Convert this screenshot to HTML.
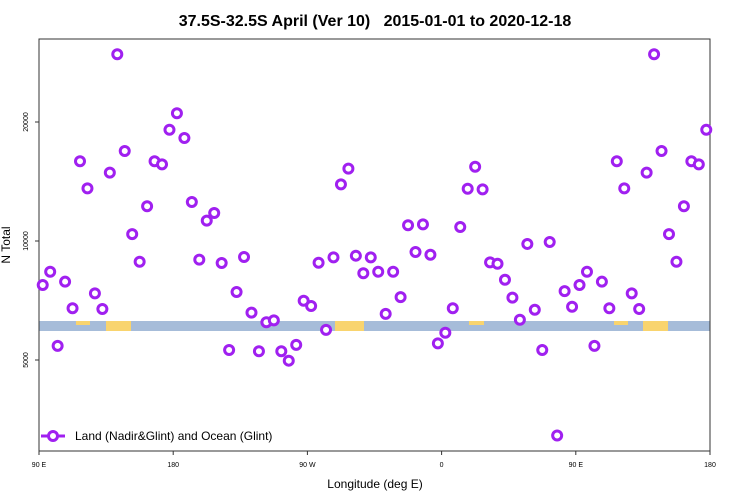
<!DOCTYPE html>
<html><head><meta charset="utf-8"><style>
body{margin:0;background:#fff;}
svg{display:block;font-family:"Liberation Sans",sans-serif;}
</style></head><body>
<svg id="chart" width="750" height="500" viewBox="0 0 750 500">
<text x="375" y="26" text-anchor="middle" font-size="16" font-weight="bold">37.5S-32.5S April (Ver 10)&#160;&#160; 2015-01-01 to 2020-12-18</text>
<g id="strip"></g>
<rect x="39" y="39" width="671" height="412" fill="none" stroke="#333" stroke-width="1"/>
<g id="axes"></g>
<g id="points"></g>
<text transform="translate(10,245) rotate(-90)" text-anchor="middle" font-size="12">N Total</text>
<text x="375" y="488" text-anchor="middle" font-size="12">Longitude (deg E)</text>
<g>
<line x1="41" y1="436" x2="65" y2="436" stroke="#a020f0" stroke-width="3"/>
<circle cx="53" cy="436" r="4.5" fill="#fff" stroke="#a020f0" stroke-width="3"/>
<text x="75" y="440" font-size="12">Land (Nadir&amp;Glint) and Ocean (Glint)</text>
</g>
</svg>
<script>
const lons = [];
for (let l = -177.5; l < 180; l += 5) lons.push(l);
const counts = [21040,18220,12550,8970,11260,11770,8800,5300,7430,9110,6590,5260,6230,6300,5260,4980,5460,7060,6850,8810,5960,9090,13910,15240,9180,8290,9090,8360,6540,8360,7210,10960,9380,11020,9230,5510,5860,6760,10850,13560,15410,13510,8830,8760,7980,7190,6320,9830,6700,5300,9940,3220,7470,6820,
7740,8360,5430,7890,6760,15910,13590,7370,6730,14890,29670,16890,10410,8860,12240,15910,15630,19120];
const xTickVals = [-270,-180,-90,0,90,180];
const xTickLabels = ["90 E","180","90 W","0","90 E","180"];
const yTickVals = [5000,10000,20000];

const NS = "http://www.w3.org/2000/svg";
function X(l){ return 39 + (l + 270) * (671/450); }
function Y(v){ return 241 - 119 * Math.log2(v/10000); }
function mk(tag, attrs, parent){ const e=document.createElementNS(NS,tag); for(const k in attrs) e.setAttribute(k,attrs[k]); parent.appendChild(e); return e; }

const strip = document.getElementById('strip');
const so = mk('rect',{x:39,y:321,width:671,height:10,fill:'#a6bcd9'},strip);


const landSegs = [[76,4,90,14],[106,10,131,25],[335,10,364,29],[469,4,484,15],[614,4,628,14],[643,10,668,25]];
landSegs.forEach(s=>{
  const r = mk('rect',{x:s[0],y:321,width:s[3],height:s[1]===4?4:10,fill:'#f9d46e'},strip);
  
  
});

const axes = document.getElementById('axes');
xTickVals.forEach((t,i)=>{
  const x = X(t);
  const tk = mk('line',{x1:x,y1:451,x2:x,y2:455,stroke:'#333'},axes);
  
  
  const lb = mk('text',{x:x,y:467,'text-anchor':'middle','font-size':7},axes);
  lb.textContent = xTickLabels[i];
  
  
});
yTickVals.forEach(v=>{
  const y = Y(v);
  const tk = mk('line',{x1:35,y1:y,x2:39,y2:y,stroke:'#333'},axes);
  
  
  const lb = mk('text',{transform:`translate(28,${y}) rotate(-90)`,'text-anchor':'middle','font-size':7},axes);
  lb.textContent = String(v);
  
  
});

const pts = document.getElementById('points');
lons.forEach((l,i)=>{
  const xs = [l];
  if (l - 360 >= -270) xs.push(l - 360);
  xs.forEach(lx=>{
    const c = mk('circle',{cx:X(lx),cy:Y(counts[i]),r:4.5,fill:'#fff',stroke:'#a020f0','stroke-width':3},pts);
    
    
  });
});
</script>
</body></html>
